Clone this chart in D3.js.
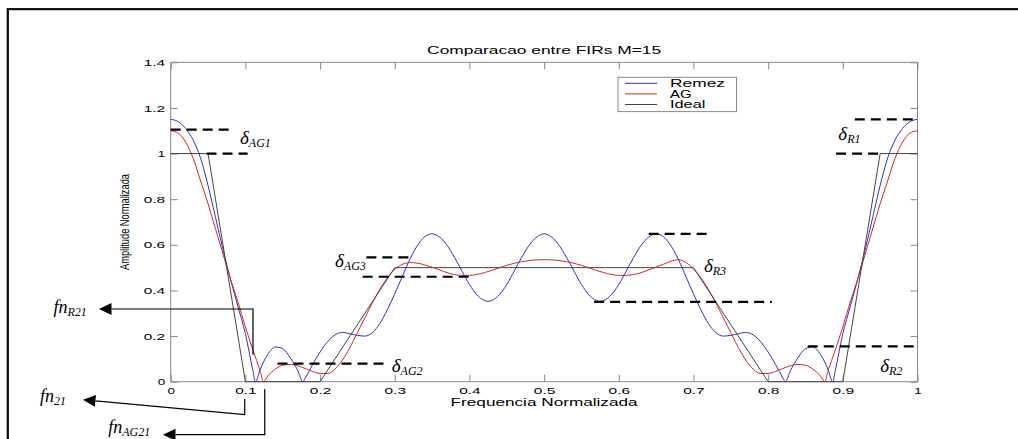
<!DOCTYPE html>
<html>
<head>
<meta charset="utf-8">
<script src="https://cdn.jsdelivr.net/npm/d3@7"></script>
<style>
  body { margin: 0; background: #fff; }
  svg { display: block; }
</style>
</head>
<body>
<svg id="chart" width="1018" height="439"></svg>
<script>
// ---- data -------------------------------------------------------------
const freqRemez = [
  0, 0.01, 0.02, 0.03, 0.04, 0.05, 0.06, 0.07, 0.08, 0.09,
  0.10, 0.11, 0.1135, 0.12, 0.13, 0.14, 0.15, 0.16, 0.17, 0.177,
  0.18, 0.19, 0.20, 0.21, 0.22, 0.23, 0.24, 0.25, 0.26, 0.27,
  0.28, 0.29, 0.30, 0.31, 0.32, 0.33, 0.34, 0.35, 0.36, 0.37,
  0.38, 0.39, 0.40, 0.41, 0.42, 0.425, 0.43, 0.44, 0.45, 0.46,
  0.47, 0.48, 0.49, 0.50, 0.51, 0.52, 0.53, 0.54, 0.55, 0.56,
  0.57, 0.575, 0.58, 0.59, 0.60, 0.61, 0.62, 0.63, 0.64, 0.65,
  0.66, 0.67, 0.68, 0.69, 0.70, 0.71, 0.72, 0.73, 0.74, 0.75,
  0.76, 0.77, 0.78, 0.79, 0.80, 0.81, 0.82, 0.823, 0.83, 0.84,
  0.85, 0.86, 0.87, 0.88, 0.8865, 0.89, 0.90, 0.91, 0.92, 0.93,
  0.94, 0.95, 0.96, 0.97, 0.98, 0.99, 1.00
];
const ampRemez = [
  1.15, 1.14, 1.11, 1.06, 0.98, 0.86, 0.72, 0.58, 0.45, 0.33,
  0.21, 0.05, 0, 0.055, 0.12, 0.152, 0.145, 0.105, 0.05, 0,
  0.015, 0.075, 0.13, 0.175, 0.205, 0.216, 0.21, 0.203, 0.2, 0.215,
  0.255, 0.315, 0.385, 0.46, 0.535, 0.595, 0.635, 0.648, 0.634, 0.598,
  0.545, 0.485, 0.426, 0.381, 0.356, 0.352, 0.356, 0.381, 0.426, 0.485,
  0.545, 0.598, 0.634, 0.648, 0.634, 0.598, 0.545, 0.485, 0.426, 0.381,
  0.356, 0.352, 0.356, 0.381, 0.426, 0.485, 0.545, 0.598, 0.634, 0.648,
  0.635, 0.595, 0.535, 0.46, 0.385, 0.315, 0.255, 0.215, 0.2, 0.203,
  0.21, 0.216, 0.205, 0.175, 0.13, 0.075, 0.015, 0, 0.05, 0.105,
  0.145, 0.152, 0.12, 0.055, 0, 0.05, 0.21, 0.33, 0.45, 0.58,
  0.72, 0.86, 0.98, 1.06, 1.11, 1.14, 1.15
];

const freqAG = [
  0, 0.01, 0.02, 0.03, 0.04, 0.05, 0.06, 0.07, 0.08, 0.09,
  0.10, 0.11, 0.12, 0.124, 0.13, 0.14, 0.15, 0.16, 0.17, 0.18,
  0.19, 0.20, 0.21, 0.22, 0.23, 0.24, 0.25, 0.26, 0.27, 0.28,
  0.29, 0.30, 0.31, 0.32, 0.33, 0.34, 0.35, 0.36, 0.37, 0.38,
  0.39, 0.40, 0.41, 0.42, 0.43, 0.44, 0.45, 0.46, 0.47, 0.48,
  0.49, 0.50, 0.51, 0.52, 0.53, 0.54, 0.55, 0.56, 0.57, 0.58,
  0.59, 0.60, 0.61, 0.62, 0.63, 0.64, 0.65, 0.66, 0.67, 0.68,
  0.69, 0.70, 0.71, 0.72, 0.73, 0.74, 0.75, 0.76, 0.77, 0.78,
  0.79, 0.80, 0.81, 0.82, 0.83, 0.84, 0.85, 0.86, 0.87, 0.876,
  0.88, 0.89, 0.90, 0.91, 0.92, 0.93, 0.94, 0.95, 0.96, 0.97,
  0.98, 0.99, 1.00
];
const ampAG = [
  1.10, 1.09, 1.05, 0.98, 0.88, 0.78, 0.67, 0.56, 0.45, 0.35,
  0.24, 0.14, 0.045, 0, 0.025, 0.055, 0.072, 0.076, 0.07, 0.058,
  0.045, 0.036, 0.036, 0.055, 0.095, 0.15, 0.215, 0.28, 0.345, 0.405,
  0.455, 0.492, 0.514, 0.522, 0.52, 0.512, 0.502, 0.49, 0.478, 0.47,
  0.466, 0.466, 0.47, 0.478, 0.488, 0.499, 0.51, 0.519, 0.526, 0.531,
  0.534, 0.535, 0.534, 0.531, 0.526, 0.519, 0.51, 0.499, 0.488, 0.478,
  0.47, 0.466, 0.466, 0.47, 0.478, 0.49, 0.503, 0.515, 0.528, 0.535,
  0.522, 0.495, 0.455, 0.405, 0.345, 0.28, 0.215, 0.15, 0.095, 0.055,
  0.036, 0.036, 0.045, 0.058, 0.07, 0.076, 0.072, 0.055, 0.025, 0,
  0.045, 0.14, 0.24, 0.35, 0.45, 0.56, 0.67, 0.78, 0.88, 0.98,
  1.05, 1.09, 1.10
];

const freqIdeal = [0, 0.05, 0.10, 0.20, 0.30, 0.70, 0.80, 0.90, 0.95, 1.00];
const ampIdeal  = [1, 1, 0, 0, 0.5, 0.5, 0, 0, 1, 1];

const seriesNames = ["Remez", "AG", "Ideal"];

const xTicks = [0, 0.1, 0.2, 0.3, 0.4, 0.5, 0.6, 0.7, 0.8, 0.9, 1];
const xTickLabels = ["0", "0.1", "0.2", "0.3", "0.4", "0.5", "0.6", "0.7", "0.8", "0.9", "1"];
const yTicks = [0, 0.2, 0.4, 0.6, 0.8, 1, 1.2, 1.4];
const yTickLabels = ["0", "0.2", "0.4", "0.6", "0.8", "1", "1.2", "1.4"];

// tolerance levels marked with dashed lines: [start freq, end freq, level]
const deltaLevels = [
  [0.000, 0.079, 1.105], [0.048, 0.103, 1.000],
  [0.916, 1.000, 1.150], [0.891, 0.951, 1.000],
  [0.262, 0.324, 0.545], [0.257, 0.403, 0.460],
  [0.143, 0.291, 0.079],
  [0.640, 0.720, 0.648], [0.567, 0.805, 0.350],
  [0.853, 1.000, 0.155]
];
// delta labels: subscript, freq, level of baseline
const deltaNames = ["AG1", "R1", "AG3", "AG2", "R3", "R2"];
const deltaFreq  = [0.0928, 0.894, 0.220, 0.296, 0.714, 0.950];
const deltaLevel = [1.043, 1.060, 0.504, 0.044, 0.482, 0.044];

// cut-off frequency callouts (arrows end at the label)
const fnNames = ["R21", "21", "AG21"];
const fnArrows = [
  [[0.1102, 0.118], [0.1102, 0.3186], [-0.096, 0.3186]],
  [[0.0991, -0.0758], [0.0991, -0.1446], [-0.1175, -0.0789]],
  [[0.1259, -0.032], [0.1259, -0.2323], [-0.0103, -0.2323]]
];
const fnLabelFreq  = [-0.157, -0.175, -0.0836];
const fnLabelLevel = [0.301, -0.0877, -0.225];

// ---- layout -----------------------------------------------------------
const svg = d3.select("#chart");
const box = { left: 170.7, right: 917.5, top: 62.3, bottom: 381.7 };
const x = d3.scaleLinear().domain([0, 1]).range([box.left, box.right]);
const y = d3.scaleLinear().domain([0, 1.4]).range([box.bottom, box.top]);

const sans = "'Liberation Sans', Arial, Helvetica, sans-serif";
const serif = "'Liberation Serif', 'Times New Roman', serif";
const axisColor = "#8a8a8a";

// outer figure frame
svg.append("path")
  .attr("d", "M7.8,439 V9.2 H1018")
  .attr("fill", "none")
  .attr("stroke", "#111")
  .attr("stroke-width", 2.3);

// ---- axes ---------------------------------------------------------------
// the sans-serif labels are drawn wide: glyphs stretched horizontally
function wide(sel, width) {
  sel.attr("textLength", width).attr("lengthAdjust", "spacingAndGlyphs");
}

function tidy(g) {
  g.select(".domain").remove();
  g.selectAll(".tick line").attr("stroke", axisColor).attr("stroke-width", 1);
  g.selectAll(".tick text")
    .attr("fill", "#000")
    .style("font-family", sans)
    .style("font-size", "9.6px")
    .each(function () {
      const t = d3.select(this);
      const n = t.text().length;
      if (n > 0) wide(t, n > 1 ? 21.5 : 7.5);
    });
}

svg.append("g")
  .attr("transform", `translate(0,${box.bottom})`)
  .call(d3.axisBottom(x).tickValues(xTicks).tickFormat((d, i) => xTickLabels[i])
    .tickSizeInner(-7).tickSizeOuter(0).tickPadding(5))
  .call(tidy);

svg.append("g")
  .attr("transform", `translate(0,${box.top})`)
  .call(d3.axisTop(x).tickValues(xTicks).tickFormat("")
    .tickSizeInner(-7).tickSizeOuter(0))
  .call(tidy);

svg.append("g")
  .attr("transform", `translate(${box.left},0)`)
  .call(d3.axisLeft(y).tickValues(yTicks).tickFormat((d, i) => yTickLabels[i])
    .tickSizeInner(-7).tickSizeOuter(0).tickPadding(5.5))
  .call(tidy);

svg.append("g")
  .attr("transform", `translate(${box.right},0)`)
  .call(d3.axisRight(y).tickValues(yTicks).tickFormat("")
    .tickSizeInner(-7).tickSizeOuter(0))
  .call(tidy);

svg.append("rect")
  .attr("x", box.left).attr("y", box.top)
  .attr("width", box.right - box.left).attr("height", box.bottom - box.top)
  .attr("fill", "none").attr("stroke", axisColor).attr("stroke-width", 1);

// titles
svg.append("text")
  .attr("x", (box.left + box.right) / 2).attr("y", 54)
  .attr("text-anchor", "middle")
  .style("font-family", sans).style("font-size", "10.4px")
  .text("Comparacao entre FIRs M=15")
  .call(wide, 234);

svg.append("text")
  .attr("x", (box.left + box.right) / 2).attr("y", 405.7)
  .attr("text-anchor", "middle")
  .style("font-family", sans).style("font-size", "10.4px")
  .text("Frequencia Normalizada")
  .call(wide, 187);

svg.append("text")
  .attr("transform", `translate(129.2,${(box.top + box.bottom) / 2}) rotate(-90) scale(1,1.25)`)
  .attr("text-anchor", "middle")
  .style("font-family", sans)
  .style("font-size", "10px")
  .text("Amplitude Normalizada")
  .call(wide, 96);

// ---- curves -------------------------------------------------------------
const smooth = d3.line().x(d => x(d[0])).y(d => y(d[1])).curve(d3.curveMonotoneX);
const straight = d3.line().x(d => x(d[0])).y(d => y(d[1]));

const colors = { Remez: "#2f2fcc", AG: "#d52626", Ideal: "#454545" };

svg.append("path")
  .datum(d3.zip(freqRemez, ampRemez))
  .attr("d", smooth)
  .attr("fill", "none").attr("stroke", colors.Remez).attr("stroke-width", 1);

svg.append("path")
  .datum(d3.zip(freqAG, ampAG))
  .attr("d", smooth)
  .attr("fill", "none").attr("stroke", colors.AG).attr("stroke-width", 1);

svg.append("path")
  .datum(d3.zip(freqIdeal, ampIdeal))
  .attr("d", straight)
  .attr("fill", "none").attr("stroke", colors.Ideal).attr("stroke-width", 1);

// ---- legend -------------------------------------------------------------
const legend = svg.append("g");
legend.append("rect")
  .attr("x", 618).attr("y", 77.3).attr("width", 118.5).attr("height", 34.3)
  .attr("fill", "#fff").attr("stroke", axisColor).attr("stroke-width", 1);
const legendWidths = [55, 21.6, 35.4];
seriesNames.forEach((name, i) => {
  const cy = 83.3 + i * 10.6;
  legend.append("line")
    .attr("x1", 625).attr("x2", 657).attr("y1", cy).attr("y2", cy)
    .attr("stroke", colors[name]).attr("stroke-width", 1);
  legend.append("text")
    .attr("x", 670).attr("y", cy + 3.7)
    .style("font-family", sans).style("font-size", "10.6px")
    .text(name)
    .call(wide, legendWidths[i]);
});

// ---- tolerance markers --------------------------------------------------
svg.append("g").selectAll("line")
  .data(deltaLevels)
  .join("line")
  .attr("x1", d => x(d[0])).attr("x2", d => x(d[1]))
  .attr("y1", d => y(d[2])).attr("y2", d => y(d[2]))
  .attr("stroke", "#000").attr("stroke-width", 2.2)
  .attr("stroke-dasharray", "10,6");

deltaNames.forEach((name, i) => {
  const t = svg.append("text")
    .attr("x", x(deltaFreq[i])).attr("y", y(deltaLevel[i]))
    .style("font-family", serif).style("font-style", "italic");
  t.append("tspan").style("font-size", "19px").text("δ");
  t.append("tspan").style("font-size", "12px").attr("dy", 3).text(name);
});

// ---- cut-off frequency callouts -----------------------------------------
fnArrows.forEach((pts, i) => {
  const p = pts.map(d => [x(d[0]), y(d[1])]);
  const tip = p[p.length - 1], prev = p[p.length - 2];
  const ang = Math.atan2(tip[1] - prev[1], tip[0] - prev[0]);
  const len = 12.5, half = 6;
  const bx = tip[0] - len * Math.cos(ang), by = tip[1] - len * Math.sin(ang);
  const shaft = p.slice(0, -1).concat([[bx, by]]);
  svg.append("path")
    .attr("d", d3.line()(shaft))
    .attr("fill", "none").attr("stroke", "#000").attr("stroke-width", 1.2);
  svg.append("path")
    .attr("d", d3.line()([
      tip,
      [bx + half * Math.sin(ang), by - half * Math.cos(ang)],
      [bx - half * Math.sin(ang), by + half * Math.cos(ang)]
    ]) + "Z")
    .attr("fill", "#000");

  const t = svg.append("text")
    .attr("x", x(fnLabelFreq[i])).attr("y", y(fnLabelLevel[i]))
    .style("font-family", serif).style("font-style", "italic");
  t.append("tspan").style("font-size", "18px").text("fn");
  t.append("tspan").style("font-size", "12px").attr("dy", 3).text(fnNames[i]);
});
</script>
</body>
</html>
